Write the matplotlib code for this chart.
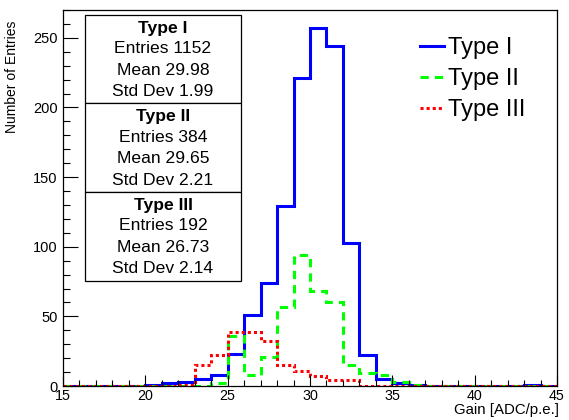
import numpy as np
import matplotlib
matplotlib.use("Agg")
import matplotlib.pyplot as plt
from matplotlib.patches import Rectangle
from matplotlib.ticker import MultipleLocator

# bin edges: 30 bins of width 1 from 15 to 45
edges = np.arange(15, 46, 1)

# counts per bin (bins 15..44)
type1 = [0, 0, 0, 0, 0, 1, 2, 3, 5, 8, 23, 51, 74, 129, 221,
         257, 244, 103, 22, 5, 2, 1, 0, 0, 0, 0, 0, 0, 1, 0]
type2 = [0, 0, 0, 0, 0, 0, 0, 0, 0, 2, 36, 8, 21, 57, 94,
         68, 60, 15, 9, 8, 3, 1, 0, 0, 0, 0, 0, 0, 0, 0]
type3 = [0, 0, 0, 0, 0, 0, 0, 1, 15, 22, 39, 39, 32, 15, 11,
         7, 4, 4, 0, 0, 0, 0, 0, 0, 0, 0, 0, 0, 0, 0]

labels = ["Type I", "Type II", "Type III"]
entries = [1152, 384, 192]
means = [29.98, 29.65, 26.73]
stds = [1.99, 2.21, 2.14]

plt.rcParams["font.family"] = ["Liberation Sans", "DejaVu Sans"]

fig = plt.figure(figsize=(5.69, 4.20), dpi=100)
ax = fig.add_axes([63 / 569, 34 / 420, 494 / 569, 376 / 420])

ax.stairs(type1, edges, color="#0000ff", lw=2.2, label=labels[0])
ax.stairs(type2, edges, color="#00ff00", lw=2.2, linestyle=(0, (2.7, 2.0)),
          label=labels[1])
ax.stairs(type3, edges, color="#ff0000", lw=2.2, linestyle=(0, (1.0, 1.0)),
          label=labels[2])

ax.set_xlim(15, 45)
ax.set_ylim(0, 270)

# ROOT-like axes: inward ticks on left/bottom only
ax.xaxis.set_major_locator(MultipleLocator(5))
ax.xaxis.set_minor_locator(MultipleLocator(1))
ax.yaxis.set_major_locator(MultipleLocator(50))
ax.yaxis.set_minor_locator(MultipleLocator(10))
ax.tick_params(axis="x", which="major", direction="in", length=8.1, width=0.8,
               labelsize=10.3, pad=2)
ax.tick_params(axis="x", which="minor", direction="in", length=4.1, width=0.8)
ax.tick_params(axis="y", which="major", direction="in", length=10.7, width=0.8,
               labelsize=10.5, pad=4)
ax.tick_params(axis="y", which="minor", direction="in", length=5.3, width=0.8)
for s in ax.spines.values():
    s.set_linewidth(0.9)

ax.set_xlabel("Gain [ADC/p.e.]", fontsize=10.8, loc="right")
ax.xaxis.set_label_coords(1.005, -0.044)
ax.set_ylabel("Number of Entries", fontsize=10, loc="top")
ax.yaxis.set_label_coords(-0.09, 0.973)

# legend, no frame
ax.legend(loc="upper left", bbox_to_anchor=(0.723, 0.928), frameon=False,
          fontsize=17, handlelength=1.0, handletextpad=0.2,
          labelspacing=0.38, borderaxespad=0, borderpad=0)

# stats boxes
x0, x1 = 22 / 494, 178 / 494
top = (386 - 15) / 376
h = 88.5 / 376
xc = (x0 + x1) / 2
rows = [0.147, 0.384, 0.627, 0.87]
for i, name in enumerate(labels):
    y_top = top - i * h
    ax.add_patch(Rectangle((x0, y_top - h), x1 - x0, h, transform=ax.transAxes,
                           fill=True, facecolor="white", edgecolor="black",
                           lw=0.9, zorder=5))
    lines = [name, f"Entries {entries[i]}", f"Mean {means[i]:.2f}",
             f"Std Dev {stds[i]:.2f}"]
    for j, txt in enumerate(lines):
        ax.text(xc, y_top - rows[j] * h, txt, transform=ax.transAxes,
                ha="center", va="center", fontsize=12.6, zorder=6,
                fontweight="bold" if j == 0 else "normal")

fig.savefig("out.png", dpi=100)
